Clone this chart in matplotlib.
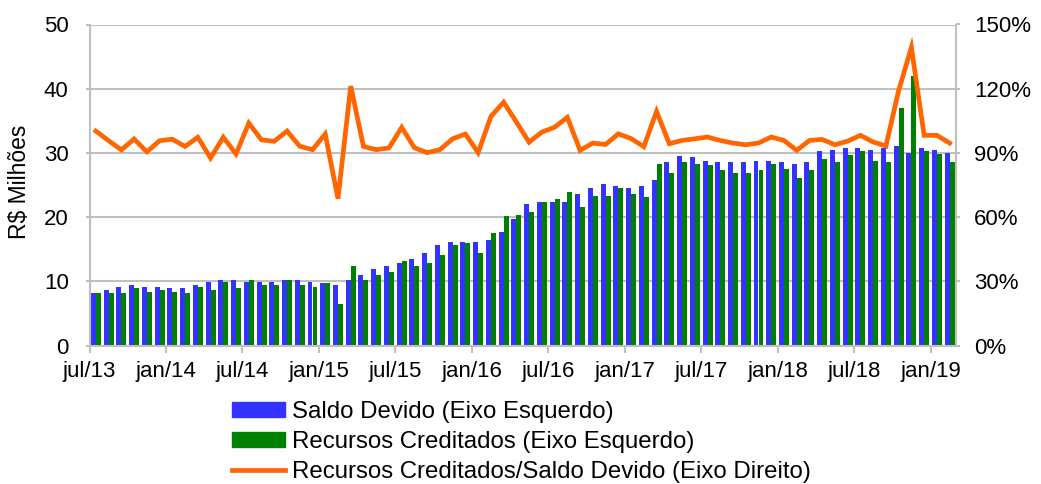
import matplotlib.pyplot as plt
import numpy as np
from matplotlib.patches import Patch
from matplotlib.lines import Line2D

plt.rcParams['font.family'] = ['Liberation Sans', 'DejaVu Sans']

# dados (R$ milhoes), mensal de jul/13 a fev/19
saldo_devido = [8.2, 8.65, 9.17, 9.4, 9.17, 9.17, 8.9, 8.9, 9.4, 9.9, 10.15, 10.15,
                9.9, 9.9, 9.9, 10.15, 10.15, 9.9, 9.7, 9.45, 10.15, 10.95, 11.95, 12.45,
                12.9, 13.45, 14.45, 15.7, 16.15, 16.15, 16.15, 16.4, 17.65, 19.7, 22.1, 22.35,
                22.35, 22.35, 23.6, 24.6, 25.1, 24.8, 24.6, 24.8, 25.8, 28.55, 29.55, 29.3,
                28.8, 28.55, 28.55, 28.55, 28.8, 28.8, 28.55, 28.3, 28.55, 30.3, 30.5, 30.8,
                30.8, 30.5, 30.8, 31.05, 30.05, 30.8, 30.5, 30.05]
recursos_creditados = [8.15, 8.15, 8.15, 8.9, 8.4, 8.65, 8.4, 8.15, 9.17, 8.65, 9.9, 8.9,
                       10.15, 9.4, 9.4, 10.15, 9.4, 9.17, 9.7, 6.5, 12.45, 10.15, 10.95, 11.4,
                       13.15, 12.45, 12.9, 14.15, 15.65, 15.9, 14.4, 17.45, 20.1, 20.4, 20.85, 22.35,
                       22.85, 23.85, 21.6, 23.3, 23.3, 24.55, 23.6, 23.1, 28.3, 26.85, 28.55, 28.3,
                       28.05, 27.3, 26.85, 26.85, 27.3, 28.3, 27.55, 26.05, 27.3, 29.05, 28.55, 29.6,
                       30.3, 28.8, 28.55, 37.0, 42.0, 30.3, 29.8, 28.55]
razao = [100.2, 95.7, 91.4, 96.5, 90.5, 95.7, 96.4, 93.0, 97.3, 87.6, 97.3, 89.5,
         103.9, 96.1, 95.4, 100.2, 93.1, 91.5, 98.8, 68.6, 121.2, 93.0, 91.5, 92.3,
         101.9, 92.4, 90.1, 91.5, 96.6, 98.8, 90.1, 107.0, 113.7, 104.4, 95.0, 99.7,
         102.0, 106.6, 91.2, 94.6, 93.9, 98.9, 96.7, 92.9, 109.4, 94.3, 95.8, 96.6,
         97.4, 95.8, 94.6, 93.8, 94.6, 97.4, 95.8, 91.2, 95.8, 96.3, 93.8, 95.5,
         98.2, 95.1, 93.2, 119.1, 139.3, 98.2, 98.2, 94.6]
rotulos = ['jul/13', 'jan/14', 'jul/14', 'jan/15', 'jul/15', 'jan/16',
           'jul/16', 'jan/17', 'jul/17', 'jan/18', 'jul/18', 'jan/19']

azul = '#3333FF'
verde = '#008000'
laranja = '#FF6600'
cinza = '#C0C0C0'

x = np.arange(len(saldo_devido))

fig = plt.figure(figsize=(10.41, 4.84), dpi=100)
ax = fig.add_axes([89.5 / 1041, 138.5 / 484, 866.5 / 1041, 321 / 484])

ax.bar(x - 0.196, saldo_devido, width=0.39, color=azul, zorder=2)
ax.bar(x + 0.196, recursos_creditados, width=0.39, color=verde, zorder=2)

ax.set_xlim(-0.5, len(x) - 0.5)
ax.set_ylim(0, 50)
ax.set_yticks(range(0, 51, 10))
ax.set_xticks(np.arange(0, len(x), 6) - 0.5)
ax.set_xticklabels(rotulos)
ax.yaxis.grid(True, color=cinza, linewidth=1.5, zorder=0)
ax.set_axisbelow(True)
for lado in ['left', 'bottom', 'right']:
    ax.spines[lado].set_color(cinza)
    ax.spines[lado].set_linewidth(1.5)
ax.spines['top'].set_visible(False)
ax.tick_params(axis='x', length=5, width=1.5, color=cinza, labelsize=16, pad=6)
ax.tick_params(axis='y', length=3, width=1.5, color=cinza, labelsize=16, pad=12)

ax2 = ax.twinx()
ax2.plot(x, razao, color=laranja, linewidth=3.4, solid_joinstyle='miter', zorder=3)
ax2.set_ylim(0, 150)
ax2.set_yticks(range(0, 151, 30))
ax2.set_yticklabels([f'{v}%' for v in range(0, 151, 30)])
for lado in ['left', 'bottom', 'right', 'top']:
    ax2.spines[lado].set_visible(False)
ax2.tick_params(axis='y', length=3, width=1.5, color=cinza, labelsize=16, pad=10)

fig.text(20 / 1041, 1 - 182 / 484, 'R$ Milhões', rotation=90, fontsize=16.5,
         ha='center', va='center')

handles = [Patch(color=azul), Patch(color=verde), Line2D([0], [0], color=laranja, linewidth=3.4)]
labels = ['Saldo Devido (Eixo Esquerdo)', 'Recursos Creditados (Eixo Esquerdo)',
          'Recursos Creditados/Saldo Devido (Eixo Direito)']
fig.legend(handles, labels, loc='upper left', bbox_to_anchor=(232 / 1041, 1 - 401 / 484),
           frameon=False, fontsize=17.3, handlelength=2.2, handleheight=0.55,
           handletextpad=0.3, labelspacing=0.33, borderaxespad=0, borderpad=0)

fig.savefig('out.png', dpi=100)
